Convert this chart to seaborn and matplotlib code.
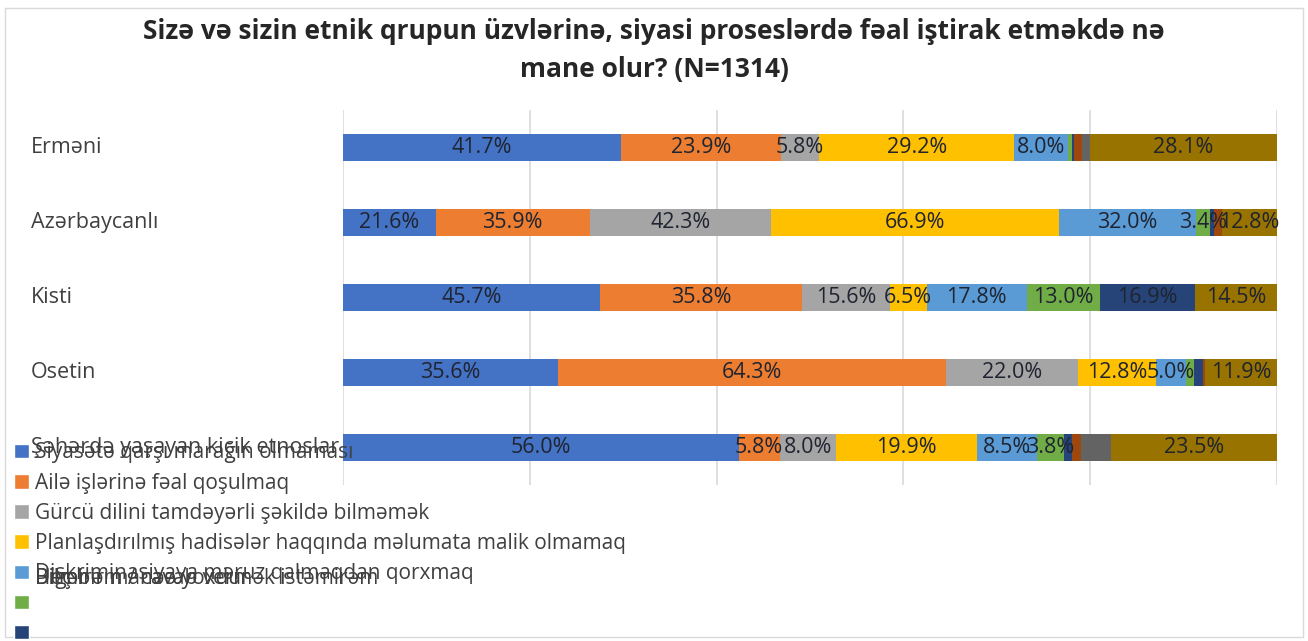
import matplotlib
matplotlib.use("Agg")
import matplotlib.pyplot as plt
import matplotlib.transforms as mtransforms
from matplotlib.patches import Patch, Rectangle
import numpy as np
import pandas as pd
import seaborn as sns

# --- data (multiple answers, shown as 100% stacked) ---
groups = ["Ermәni", "Azәrbaycanlı", "Kisti", "Osetin", "Şәhәrdә yaşayan kiçik etnoslar"]
series_names = [
    "Siyasәtә qarşı marağın olmaması",
    "Ailә işlәrinә fәal qoşulmaq",
    "Gürcü dilini tamdәyәrli şәkildә bilmәmәk",
    "Planlaşdırılmış hadisәlәr haqqında mәlumata malik olmamaq",
    "Diskriminasiyaya mәruz qalmaqdan qorxmaq",
    "",
    "",
    "Digәr",
    "Bilmirәm / cavab vermәk istәmirәm",
    "Heç bir manәә yoxdur",
]
s1 = [41.7, 21.6, 45.7, 35.6, 56.0]
s2 = [23.9, 35.9, 35.8, 64.3, 5.8]
s3 = [5.8, 42.3, 15.6, 22.0, 8.0]
s4 = [29.2, 66.9, 6.5, 12.8, 19.9]
s5 = [8.0, 32.0, 17.8, 5.0, 8.5]
s6 = [0.6, 3.4, 13.0, 1.3, 3.8]
s7 = [0.4, 0.9, 16.9, 1.5, 1.2]
s8 = [1.2, 1.8, 0.0, 0.4, 1.2]
s9 = [1.1, 0.0, 0.0, 0.0, 4.3]
s10 = [28.1, 12.8, 14.5, 11.9, 23.5]
all_series = [s1, s2, s3, s4, s5, s6, s7, s8, s9, s10]
labelled = [True, True, True, True, True, True, True, False, False, True]

colors = ["#4472C4", "#ED7D31", "#A5A5A5", "#FFC000", "#5B9BD5",
          "#70AD47", "#264478", "#9E480E", "#636363", "#997300"]

title = ("Sizә vә sizin etnik qrupun üzvlәrinә, siyasi proseslәrdә fәal iştirak etmәkdә nә\n"
         "mane olur? (N=1314)")

sns.set_theme(style="white")
plt.rcParams["font.family"] = ["Open Sans", "DejaVu Sans"]

values = np.array(all_series)          # (series, group)
shares = values / values.sum(axis=0) * 100
cum = np.cumsum(shares, axis=0)

fig = plt.figure(figsize=(13.08, 6.41), dpi=100)
ax = fig.add_axes([343 / 1308, 1 - 485 / 641, (1277 - 343) / 1308, 375 / 641])

# draw cumulative bars from the last series backwards so each segment shows
for i in range(len(all_series) - 1, -1, -1):
    df = pd.DataFrame({"group": groups, "cum": cum[i]})
    sns.barplot(data=df, y="group", x="cum", order=groups, color=colors[i],
                width=0.37, saturation=1, ax=ax, linewidth=0, zorder=2)

for i, vals in enumerate(all_series):
    if not labelled[i]:
        continue
    for j, v in enumerate(vals):
        if v < 3:
            continue
        center = cum[i][j] - shares[i][j] / 2
        ax.text(center, j, f"{v:.1f}%", ha="center", va="center",
                fontsize=15.5, color="#1f2430", zorder=3)

ax.set_xlim(0, 100)
ax.set_ylim(4.5, -0.5)
ax.set_xticks(range(0, 101, 20))
ax.xaxis.grid(True, color="#D9D9D9", linewidth=1.2)
ax.set_axisbelow(True)
ax.tick_params(axis="x", labelbottom=False, length=0)
ax.set_yticks([])
ax.set_xlabel("")
ax.set_ylabel("")
sns.despine(ax=ax, left=True, bottom=True)

# category labels, left aligned near the figure edge
trans = mtransforms.blended_transform_factory(fig.transFigure, ax.transData)
for j, g in enumerate(groups):
    ax.text(31 / 1308, j, g, transform=trans, ha="left", va="center",
            fontsize=15.5, color="#404040")

fig.suptitle(title, x=0.5, y=0.972, fontsize=19, fontweight="bold",
             color="#262626", linespacing=1.55)

# legend (overflowing, as in the source chart)
handles = [Patch(facecolor=colors[i]) for i in range(7)]
leg = fig.legend(handles, series_names[:7], loc="upper left",
                 bbox_to_anchor=(4 / 1308, 1 - 432 / 641), frameon=False,
                 fontsize=15, handlelength=0.7, handleheight=0.7,
                 handletextpad=0.3, labelspacing=0.44, borderpad=0,
                 labelcolor="#404040")

fig.canvas.draw()
anchor = leg.get_texts()[4]
x0, y0 = anchor.get_window_extent().x0, anchor.get_window_extent().y0
inv = fig.transFigure.inverted()
fx, fy = inv.transform((x0, y0))
for name in series_names[7:]:
    fig.text(fx, fy, name, ha="left", va="baseline", fontsize=15,
             color="#404040")

fig.patches.append(Rectangle((0.004, 0.006), 0.992, 0.981,
                             transform=fig.transFigure, fill=False,
                             edgecolor="#D9D9D9", linewidth=1))

fig.savefig("out.png", dpi=100)
